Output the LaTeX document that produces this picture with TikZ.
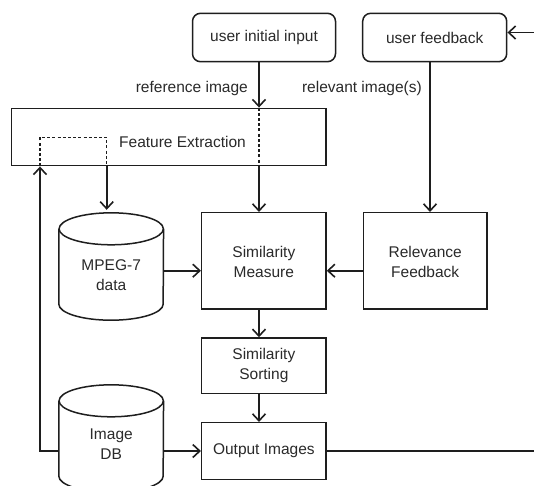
\documentclass[tikz,border=0pt]{standalone}
\usepackage{fontspec}
\setmainfont{Liberation Sans}
\usetikzlibrary{arrows.meta}
\definecolor{ink}{HTML}{1E1E1E}
\definecolor{txt}{HTML}{2A2A2A}
\begin{document}
\begin{tikzpicture}[x=1pt,y=-1pt,
  every node/.style={font=\fontsize{15.5}{19.5}\selectfont, text=txt, inner sep=0pt},
  boxnode/.style={draw=ink, line width=1.5pt, align=center},
  roundbox/.style={boxnode, rounded corners=8pt},
  cylbody/.style={minimum width=104.3pt, minimum height=107pt},
  conn/.style={draw=ink, line width=1.6pt},
  arr/.style={conn, -{Straight Barb[length=7pt,width=13pt,line width=1.6pt]}},
  dashline/.style={draw=ink, line width=1.3pt, dash pattern=on 3pt off 2.2pt},
  cylline/.style={draw=ink, line width=1.5pt}
]
\useasboundingbox (0,0) rectangle (534,485);
\fill[white] (0,0) rectangle (534,485);

% nodes
\node[roundbox, minimum width=143pt, minimum height=48.4pt] (uii) at (264,37.5) {user initial input};
\node[roundbox, minimum width=144pt, minimum height=48.4pt] (uf) at (434.7,37.5) {user feedback};
\node[boxnode, minimum width=314.3pt, minimum height=57.4pt] (fe) at (168.85,137) {};
\node (fet) at (182.5,142) {Feature Extraction};
\node[cylbody] (mpeg) at (111.2,266.5) {};
\node[align=center] (mpegt) at (111.2,275) {MPEG-7\\data};
\node[boxnode, minimum width=124.3pt, minimum height=96.3pt] (sm) at (263.85,260.85) {};
\node[align=center] (smt) at (263.85,262) {Similarity\\Measure};
\node[boxnode, minimum width=123.6pt, minimum height=96.3pt] (rf) at (425.2,260.85) {};
\node[align=center] (rft) at (425.2,262) {Relevance\\Feedback};
\node[boxnode, minimum width=124.3pt, minimum height=55.3pt, align=center] (ss) at (263.85,365.65) {Similarity\\Sorting};
\node[boxnode, minimum width=124.3pt, minimum height=56.6pt] (oi) at (263.85,451) {Output Images};
\node[cylbody] (db) at (111.2,438.5) {};
\node[align=center] (dbt) at (111.2,444) {Image\\DB};

\node[anchor=east] (lref) at (248,88) {reference image};
\node[anchor=east] (lrel) at (422,88) {relevant image(s)};

% cylinders
\foreach \n in {mpeg,db}{
  \draw[cylline] ([yshift=-16pt]\n.north) ellipse [x radius=52.15pt, y radius=16pt];
  \draw[cylline] ([yshift=-16pt]\n.north west) -- ([yshift=16pt]\n.south west)
     arc [start angle=180, end angle=360, x radius=52.15pt, y radius=16pt]
     -- ([yshift=-16pt]\n.north east);
}

% helper coordinates
\coordinate (xa) at (259,0);
\coordinate (xb) at (430,0);
\coordinate (dl) at (40,137.3);
\coordinate (dr) at (106.7,137.3);
\coordinate (ya) at (0,270.7);
\coordinate (yb) at (0,451);
\coordinate (rin) at (534,32.5);
\coordinate (rout) at (534,451);

% connectors
\draw[arr] (uii.south -| xa) -- (fe.north -| xa);
\draw[dashline] (fe.north -| xa) -- (fe.south -| xa);
\draw[arr] (fe.south -| xa) -- (sm.north -| xa);
\draw[dashline] (fe.south -| dl) -- (dl) -- (dr) -- (fe.south -| dr);
\draw[arr] (fe.south -| dr) -- ([yshift=3pt]mpeg.north -| dr);
\draw[arr] (uf.south -| xb) -- (rf.north -| xb);
\draw[arr] (rin) -- (uf.east |- rin);
\draw[arr] (mpeg.east |- ya) -- (sm.west |- ya);
\draw[arr] (rf.west |- ya) -- (sm.east |- ya);
\draw[arr] (sm.south -| xa) -- (ss.north -| xa);
\draw[arr] (ss.south -| xa) -- (oi.north -| xa);
\draw[arr] (db.east |- yb) -- (oi.west |- yb);
\draw[arr] (db.west |- yb) -- (dl |- yb) -- (fe.south -| dl);
\draw[conn] (oi.east |- yb) -- (rout);
\end{tikzpicture}
\end{document}
